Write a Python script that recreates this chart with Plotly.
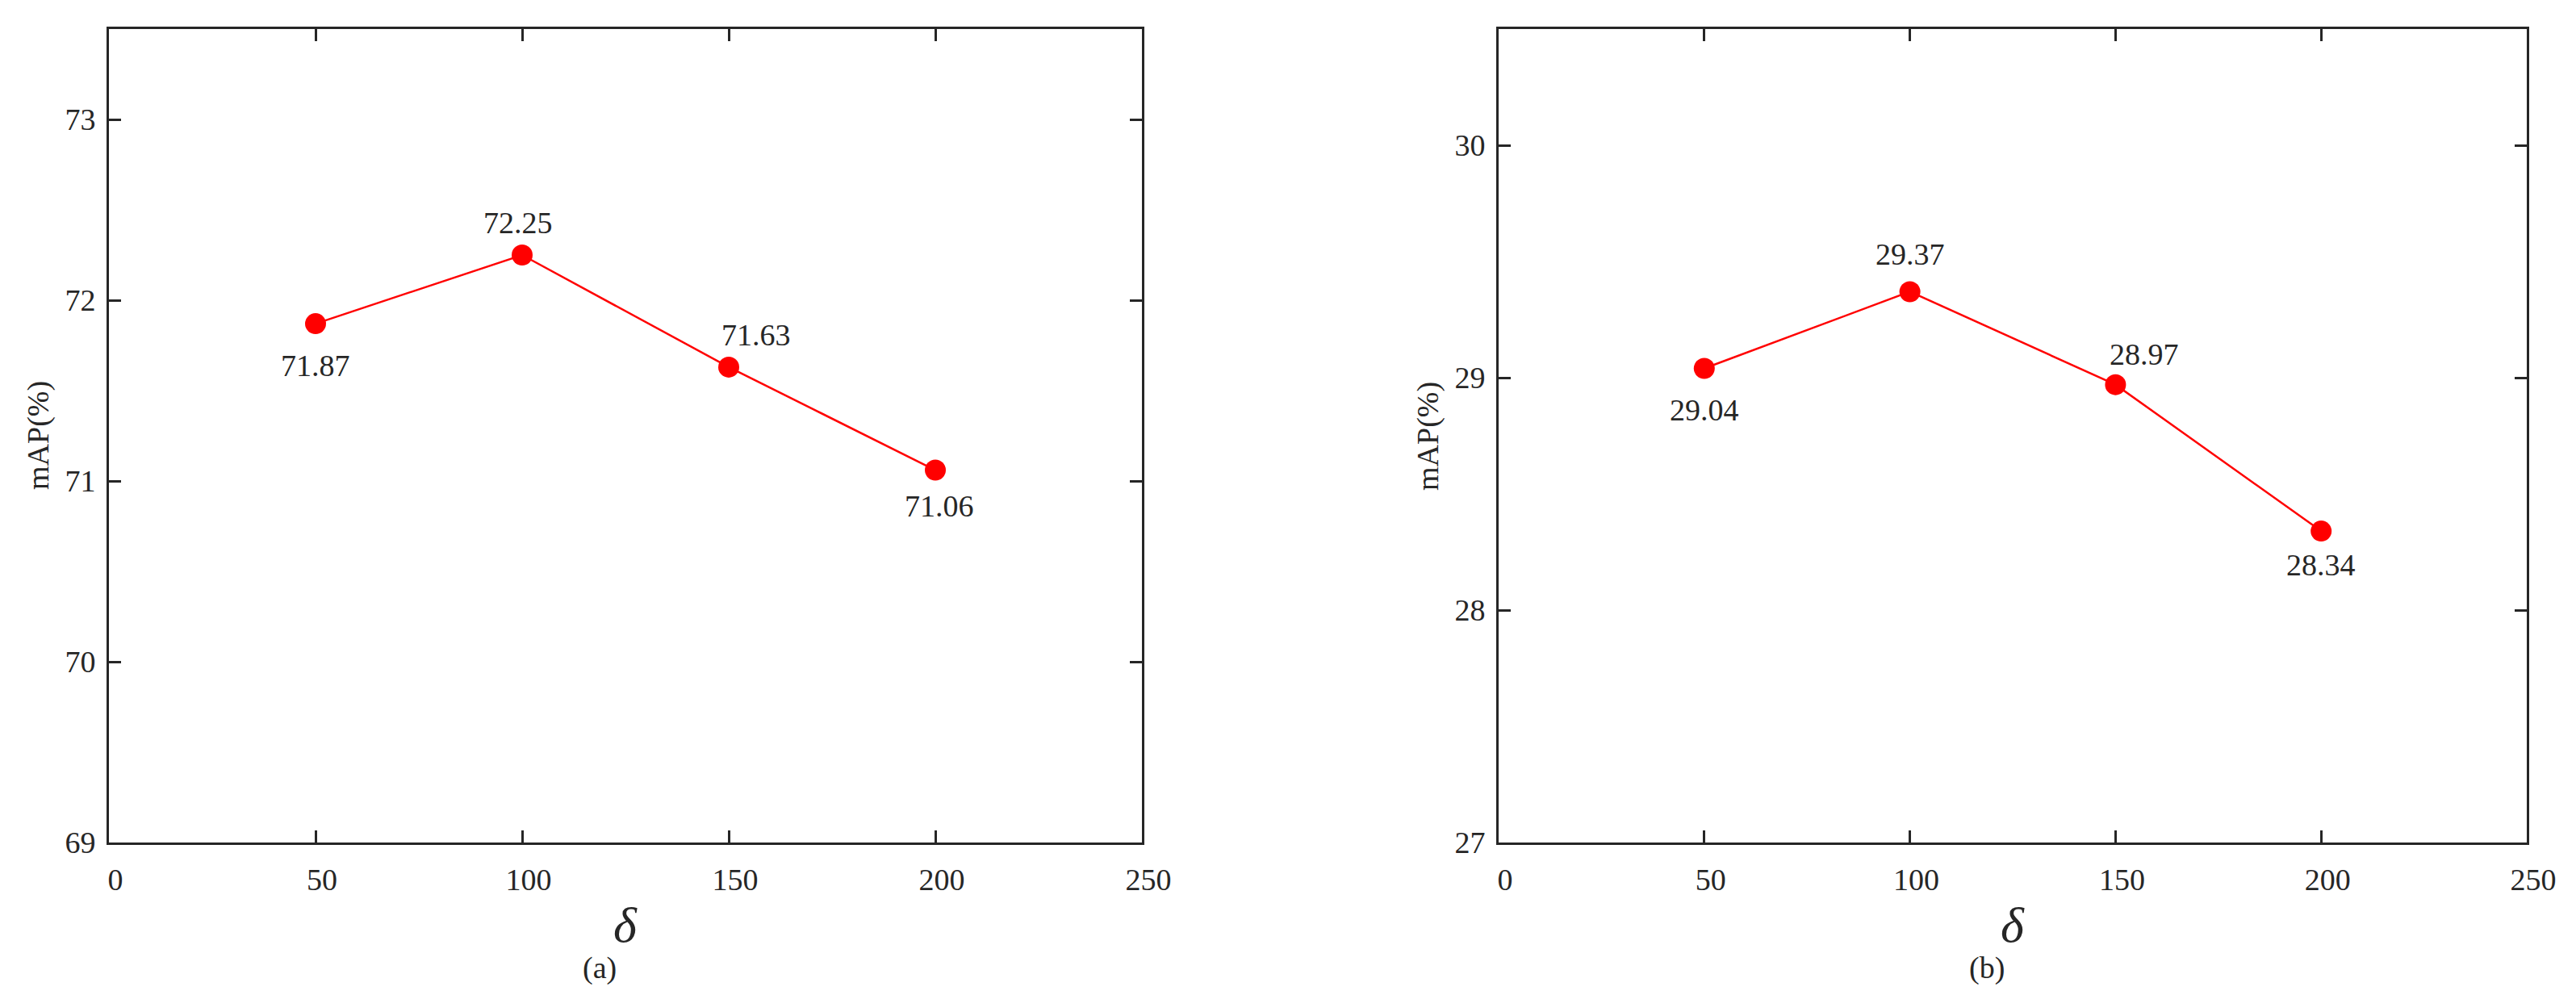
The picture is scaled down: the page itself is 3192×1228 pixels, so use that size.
import plotly.graph_objects as go

# ---- data ----
delta = [50, 100, 150, 200]
map_a = [71.87, 72.25, 71.63, 71.06]
map_b = [29.04, 29.37, 28.97, 28.34]
x_ticks = [0, 50, 100, 150, 200, 250]
y_ticks_a = [69, 70, 71, 72, 73]
y_ticks_b = [27, 28, 29, 30]
panel_labels = ["(a)", "(b)"]
x_title = "δ"
y_title = "mAP(%)"

# ---- style ----
FONT = "Liberation Serif, Times New Roman, serif"
INK = "#262626"
RED = "#FF0000"
W, H = 3192, 1228
TOP, BOT = 36, 1044
PANELS = [(135, 1415), (1857, 3131)]
# label offsets (xshift, yshift) in px
off_a = [(0, -52), (-5, 40), (34, 40), (5, -44)]
off_b = [(0, -52), (0, 46), (36, 38), (0, -42)]

fig = go.Figure()

series = [(map_a, "x", "y"), (map_b, "x2", "y2")]
for vals, xa, ya in series:
    fig.add_trace(go.Scatter(
        x=delta, y=vals, xaxis=xa, yaxis=ya, mode="lines+markers",
        line=dict(color=RED, width=2.5),
        marker=dict(color=RED, size=26, line=dict(width=0)),
        showlegend=False, hoverinfo="x+y"))

annotations = []
for (vals, xa, ya), offs in zip(series, [off_a, off_b]):
    for xv, yv, (dx, dy) in zip(delta, vals, offs):
        annotations.append(dict(
            x=xv, y=yv, xref=xa, yref=ya, text=f"{yv:.2f}", showarrow=False,
            xshift=dx, yshift=dy, font=dict(family=FONT, size=38, color=INK)))

for i, (l, r) in enumerate(PANELS):
    xa = "x" if i == 0 else "x2"
    ya = "y" if i == 0 else "y2"
    # y axis title
    annotations.append(dict(
        x=0, y=0.5, xref=f"{xa} domain", yref=f"{ya} domain", text=y_title,
        showarrow=False, textangle=-90, xshift=-88, xanchor="center",
        yanchor="middle", font=dict(family=FONT, size=38, color=INK)))
    # x axis title (delta)
    annotations.append(dict(
        x=0.5, y=0, xref=f"{xa} domain", yref=f"{ya} domain", text=x_title,
        showarrow=False, yshift=-(1146 - BOT), xanchor="center", yanchor="middle",
        font=dict(family=FONT, size=62, color=INK, style="italic")))
    # panel label
    annotations.append(dict(
        x=0.5, y=0, xref=f"{xa} domain", yref=f"{ya} domain", text=panel_labels[i],
        showarrow=False, xshift=-32, yshift=-(1199 - BOT), xanchor="center",
        yanchor="middle", font=dict(family=FONT, size=38, color=INK)))

def xaxis(l, r, anchor):
    return dict(domain=[l / W, r / W], range=[0, 250], tickvals=x_ticks,
                ticks="inside", ticklen=15, tickwidth=3, tickcolor=INK,
                showline=True, linewidth=3, linecolor=INK, mirror="ticks",
                showgrid=False, zeroline=False, anchor=anchor,
                automargin=False, ticklabelstandoff=10, ticklabelshift=8,
                tickfont=dict(family=FONT, size=38, color=INK))

def yaxis(rng, tv, anchor):
    return dict(domain=[1 - BOT / H, 1 - TOP / H], range=rng, tickvals=tv,
                ticks="inside", ticklen=15, tickwidth=3, tickcolor=INK,
                showline=True, linewidth=3, linecolor=INK, mirror="ticks",
                showgrid=False, zeroline=False, anchor=anchor,
                automargin=False, ticklabelstandoff=6,
                tickfont=dict(family=FONT, size=38, color=INK))

fig.update_layout(
    width=W, height=H, autosize=False,
    margin=dict(l=0, r=0, t=0, b=0, pad=0),
    paper_bgcolor="white", plot_bgcolor="white",
    xaxis=xaxis(*PANELS[0], "y"),
    yaxis=yaxis([69, 73.5], y_ticks_a, "x"),
    xaxis2=xaxis(*PANELS[1], "y2"),
    yaxis2=yaxis([27, 30.5], y_ticks_b, "x2"),
    annotations=annotations,
    font=dict(family=FONT, color=INK),
)

fig.write_html(
    "out.html",
    config={"displayModeBar": False},
    post_script="document.body.style.margin='0';document.body.style.overflow='hidden';",
)
